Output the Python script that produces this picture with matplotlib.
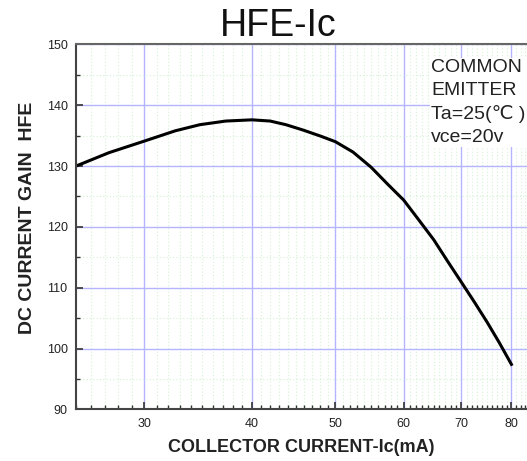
import matplotlib
matplotlib.use("Agg")
import matplotlib.pyplot as plt
from matplotlib.ticker import FixedLocator, NullFormatter, MultipleLocator

plt.rcParams['font.family'] = ['Liberation Sans', 'DejaVu Sans']

# Ic (mA) vs DC current gain
ic_ma = [25, 27.3, 30, 32.6, 34.8, 37.3, 40, 42, 43.8, 45.9, 48.1, 50, 52.4,
         55, 57.5, 60, 62.5, 65, 67.5, 70, 72.5, 75, 77.5, 80]
hfe = [130.0, 132.2, 134.1, 135.8, 136.8, 137.4, 137.6, 137.4, 136.8, 135.9,
       134.9, 134.0, 132.3, 129.8, 127.0, 124.4, 121.1, 117.9, 114.3, 110.9,
       107.6, 104.3, 100.9, 97.4]

x_major = [30, 40, 50, 60, 70, 80]
x_minor = list(range(25, 84))
y_ticks = [90, 100, 110, 120, 130, 140, 150]

fig = plt.figure(figsize=(5.27, 4.61), dpi=100)
ax = fig.add_axes([76 / 527, 51.6 / 461, 451 / 527, 365 / 461])

ax.plot(ic_ma, hfe, color='black', linewidth=2.2, solid_joinstyle='round')

ax.set_xscale('log')
ax.set_xlim(25, 83.4)
ax.set_ylim(90, 150)

ax.xaxis.set_major_locator(FixedLocator(x_major))
ax.xaxis.set_minor_locator(FixedLocator(x_minor))
ax.set_xticklabels([str(v) for v in x_major])
ax.xaxis.set_minor_formatter(NullFormatter())
ax.yaxis.set_major_locator(FixedLocator(y_ticks))
ax.yaxis.set_minor_locator(MultipleLocator(5))

ax.grid(True, which='major', color='#b4b4ff', linewidth=1.0)
ax.grid(True, which='minor', color='#d4f2d4', linestyle=(0, (1, 2)), linewidth=0.8)
ax.set_axisbelow(True)

ax.tick_params(which='major', direction='in', length=5, width=1.2, color='#333333',
               labelsize=9, labelcolor='#222222', pad=6)
ax.tick_params(which='minor', direction='in', length=3, width=1.0, color='#333333')

for side in ['left', 'bottom']:
    ax.spines[side].set_color('#444444')
    ax.spines[side].set_linewidth(1.5)
ax.spines['top'].set_color('#666666')
ax.spines['top'].set_linewidth(1.5)
ax.spines['right'].set_visible(False)

ax.set_xlabel('COLLECTOR CURRENT-Ic(mA)', fontsize=13, fontweight='bold',
              color='#222222', labelpad=7)
ax.set_ylabel('DC CURRENT GAIN  HFE', fontsize=14, fontweight='bold',
              color='#222222', labelpad=8)
ax.yaxis.label.set_y(0.526)

fig.text(278 / 527, 1 - 26 / 461, 'HFE-Ic', fontsize=27, ha='center', va='center',
         color='#111111')

ax.text(0.787, 0.96, 'COMMON\nEMITTER\nTa=25(\u2103 )\nvce=20v',
        transform=ax.transAxes, fontsize=14, va='top', ha='left',
        color='#222222', linespacing=1.45,
        bbox=dict(facecolor='white', edgecolor='none', pad=1))

fig.savefig('out.png', dpi=100)
